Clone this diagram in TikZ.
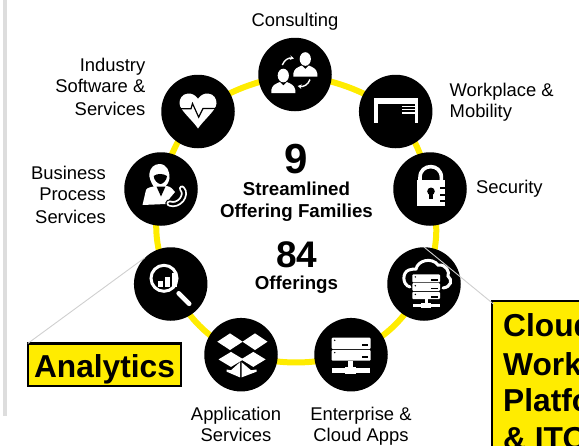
\documentclass[tikz,border=0pt]{standalone}
\usepackage{fontspec}
\setmainfont{Liberation Sans}
\usetikzlibrary{backgrounds,arrows.meta}
\definecolor{ringyellow}{HTML}{FFEC00}
\definecolor{leadergray}{HTML}{CFCFCF}
\definecolor{bargray}{HTML}{DDDDDD}
\newcommand{\srvunit}[4]{% x0,y0,x1,y1
  \fill[white,rounded corners=1pt] (#1,#2) rectangle (#3,#4);
  \fill[black] ({#1+3},{#2+2.6}) circle[radius=0.8];
  \fill[black] ({#3-9},{(#2+#4)/2+0.6}) rectangle ({#3-2.5},{(#2+#4)/2+2.4});
}
\newcommand{\bustshape}[3]{% cx, bottom y, half width
  \fill[white] ({#1-#3},#2) -- ({#1-#3},{#2-3}) .. controls ({#1-#3+1},{#2-8}) and ({#1-#3+4},{#2-9}) .. ({#1-3.5},{#2-11}) -- (#1,{#2-7.5}) -- ({#1+3.5},{#2-11}) .. controls ({#1+#3-4},{#2-9}) and ({#1+#3-1},{#2-8}) .. ({#1+#3},{#2-3}) -- ({#1+#3},#2) -- cycle;
  \fill[white] (#1,{#2-17.5}) ellipse[x radius=5.6,y radius=6.8];
}
\tikzset{
  x=1pt,y=-1pt,
  hub/.style={circle,fill=black,inner sep=0pt,minimum size=73.5pt},
  ringedge/.style={draw=ringyellow,line width=6pt},
  leader/.style={draw=leadergray,line width=0.9pt},
  lbl/.style={font=\fontsize{18.4}{21}\selectfont,inner sep=0pt,text=black},
  big/.style={font=\bfseries\fontsize{18.7}{21}\selectfont,inner sep=0pt,align=center},
  callout/.style={draw=black,fill=ringyellow,line width=2.2pt,text=black},
  calltext/.style={inner sep=0pt,font=\bfseries\fontsize{31.7}{37.5}\selectfont},
}
\begin{document}
\begin{tikzpicture}
\useasboundingbox (0,0) rectangle (579,445);
\clip (0,0) rectangle (579,445);
\fill[bargray] (3.3,0) rectangle (7,415.7);

\node[hub] (consult) at (295,74.5) {};
\node[hub] (industry) at (198,111.5) {};
\node[hub] (business) at (161,189) {};
\node[hub] (analytics) at (170.7,284) {};
\node[hub] (appsvc) at (241,354.7) {};
\node[hub] (enterprise) at (351,354.7) {};
\node[hub] (cloud) at (424,284) {};
\node[hub] (security) at (430,189) {};
\node[hub] (workplace) at (395.7,111.5) {};

\begin{scope}[on background layer]
  \draw[ringedge] (consult.center) to[bend left=12] (workplace.center);
  \draw[ringedge] (workplace.center) to[bend left=12] (security.center);
  \draw[ringedge] (security.center) to[bend left=19] (cloud.center);
  \draw[ringedge] (cloud.center) to[bend left=18] (enterprise.center);
  \draw[ringedge] (enterprise.center) to[bend left=14] (appsvc.center);
  \draw[ringedge] (appsvc.center) to[bend left=18] (analytics.center);
  \draw[ringedge] (analytics.center) to[bend left=19] (business.center);
  \draw[ringedge] (business.center) to[bend left=12] (industry.center);
  \draw[ringedge] (industry.center) to[bend left=12] (consult.center);
\end{scope}

% Consulting icon
\begin{scope}[shift={(consult.center)}]
  \bustshape{10.3}{2}{12}
  \bustshape{-11.7}{18.5}{12}
  \draw[white,line width=1.4pt,-{Stealth[length=4pt,width=4.5pt]}] (-12.7,-9.5) .. controls (-10.5,-15) and (-6,-17) .. (-1,-16);
  \draw[white,line width=1.4pt,-{Stealth[length=4pt,width=4.5pt]}] (15,5) .. controls (13,10.5) and (8.5,12.5) .. (2.7,11.5);
\end{scope}

% Heart icon
\begin{scope}[shift={(industry.center)}]
  \fill[white] (0,-12.7) .. controls (-3,-17) and (-7,-18.3) .. (-10,-18) .. controls (-16,-17.5) and (-18.7,-12.5) .. (-18.5,-8) .. controls (-18,-1) and (-6,8) .. (0,17) .. controls (6,8) and (18,-1) .. (18.5,-8) .. controls (18.7,-12.5) and (16,-17.5) .. (10,-18) .. controls (7,-18.3) and (3,-17) .. (0,-12.7) -- cycle;
  \draw[black,line width=1.2pt] (-18.7,-2.7) -- (-7,-2.7) -- (-5.5,-8) -- (0.7,5.7) -- (5,-3) -- (18.7,-3);
\end{scope}

% Person with phone icon
\begin{scope}[shift={(business.center)}]
  \fill[white] (-18.5,16) -- (-15,1) .. controls (-14,-1.5) and (-10,-2) .. (-5,-3) -- (6,-3) .. controls (10,-2) and (12,0) .. (14,3) -- (9,9) -- (5,15) -- cycle;
  \fill[white] (-1.5,-25) .. controls (6,-25) and (9,-17) .. (8.5,-11) .. controls (8,-7) and (6,-4) .. (4,-2) -- (-7,-2) .. controls (-10,-6) and (-12,-12) .. (-11.7,-15) .. controls (-11,-21) and (-7,-25) .. (-1.5,-25) -- cycle;
  \fill[black] (-7.3,-13) .. controls (-4,-15.7) and (2,-15.7) .. (6,-13) .. controls (6,-9) and (2,-5) .. (-0.5,-5) .. controls (-3,-5) and (-7.3,-9) .. (-7.3,-13) -- cycle;
  \fill[black] (-4.5,-2.5) -- (4.5,-2.5) -- (0,7.5) -- cycle;
  \draw[black,line width=8.5pt,line cap=round] (8.5,14.5) .. controls (18,18) and (27,6) .. (21,-0.5);
  \draw[white,line width=6pt,line cap=round] (8.5,14.5) .. controls (18,18) and (27,6) .. (21,-0.5);
  \draw[black,line width=2.4pt,line cap=round] (8.5,14.5) .. controls (18,18) and (27,6) .. (21,-0.5);
\end{scope}

% Magnifier icon
\begin{scope}[shift={(analytics.center)}]
  \draw[white,line width=3pt] (-6.7,-5.7) circle[radius=13];
  \draw[white,line width=4.6pt,line cap=round] (8,9.3) -- (18.5,19.8);
  \fill[white] (-12.7,-3) rectangle (-7.6,3);
  \fill[white] (-5.7,-7.3) rectangle (-0.9,3);
  \fill[white] (1,-11.3) rectangle (6.7,3);
\end{scope}

% Open box icon
\begin{scope}[shift={(appsvc.center)}]
  \fill[white] (-23.7,-13) -- (-11,-21.3) -- (1.7,-13) -- (-11,-4.7) -- cycle;
  \fill[white] (1.5,-13) -- (14,-21.3) -- (26.5,-13) -- (14,-4.7) -- cycle;
  \fill[white] (-22.5,4.7) -- (-10,-2.8) -- (2.5,4.7) -- (-10,12.2) -- cycle;
  \fill[white] (0,4.7) -- (12.3,-2.8) -- (24.6,4.7) -- (12.3,12.2) -- cycle;
  \fill[white] (-14.3,14.8) -- (-10,15.5) -- (-1,7.5) -- (-1,22.7) -- (-14.3,17) -- cycle;
  \fill[white] (0.5,7.5) -- (10,15.5) -- (15.5,14.8) -- (15.5,17) -- (0.5,22.7) -- cycle;
\end{scope}

% Server icon
\begin{scope}[shift={(enterprise.center)}]
  \srvunit{-19.3}{-17}{19.7}{-5.7}
  \srvunit{-19.3}{-4.7}{19.7}{6}
  \fill[white] (-2.7,6) rectangle (2.3,14);
  \fill[white] (-18.7,13.7) rectangle (19,18);
  \fill[white] (-6,12) rectangle (5,19);
\end{scope}

% Cloud server icon
\begin{scope}[shift={(cloud.center)}]
  \draw[white,line width=3pt,line cap=round] (-14,3) .. controls (-22,1) and (-22,-12) .. (-15,-14) .. controls (-12,-15) and (-10,-15) .. (-8,-15) .. controls (-6,-24) and (8,-27) .. (14,-19) .. controls (22,-20) and (26,-12) .. (24,-8) .. controls (29,-4) and (27,3) .. (19,4);
  \srvunit{-11.7}{-9.7}{16}{-1.7}
  \srvunit{-11.7}{-0.9}{16}{6.9}
  \srvunit{-11.7}{7.8}{16}{15.2}
  \fill[white] (0.7,15) rectangle (3.6,20);
  \fill[white] (-11,20) rectangle (16,23.3);
  \fill[white] (-3,18.5) rectangle (7,24);
\end{scope}

% Security icon
\begin{scope}[shift={(security.center)}]
  \draw[white,line width=3.6pt] (-10,-9) -- (-10,-11.5) .. controls (-10,-26) and (11.4,-26) .. (11.4,-11.5) -- (11.4,-9);
  \fill[white] (-12.7,-9.3) rectangle (15,16.7);
  \fill[black] (1,2.3) circle[radius=3.8];
  \fill[black] (-0.8,3) rectangle (2.8,10);
  \fill[black] (10,-1.8) rectangle (15.2,-0.2);
  \fill[black] (10,4.9) rectangle (15.2,6.5);
  \fill[black] (10,10.9) rectangle (15.2,12.5);
\end{scope}

% Desk icon
\begin{scope}[shift={(workplace.center)}]
  \fill[white] (-21.3,-13.3) rectangle (22.7,-7.3);
  \fill[white] (-21.3,-13.3) rectangle (-18,11.7);
  \fill[white] (19.4,-13.3) rectangle (22.7,11.7);
  \fill[white] (6,-5.6) rectangle (19,-4.3);
  \fill[white] (6,-2.4) rectangle (19,-1.1);
  \fill[white] (6,0.9) rectangle (19,2.2);
\end{scope}

% Labels
\node[lbl,anchor=base] (lconsult) at (295,26.5) {Consulting};
\node[lbl,anchor=base east] (lind1) at (145.5,71) {Industry};
\node[lbl,anchor=base east] (lind2) at (145.5,92) {Software \&};
\node[lbl,anchor=base east] (lind3) at (145.5,115) {Services};
\node[lbl,anchor=base east] (lbus1) at (106,179) {Business};
\node[lbl,anchor=base east] (lbus2) at (106,200) {Process};
\node[lbl,anchor=base east] (lbus3) at (106,223) {Services};
\node[lbl,anchor=base west] (lwork1) at (449.5,96.7) {Workplace \&};
\node[lbl,anchor=base west] (lwork2) at (449.5,117.7) {Mobility};
\node[lbl,anchor=base west] (lsec) at (476,193) {Security};
\node[lbl,anchor=base] (lapp1) at (236,420) {Application};
\node[lbl,anchor=base] (lapp2) at (236,441.7) {Services};
\node[lbl,anchor=base] (lent1) at (361,420) {Enterprise \&};
\node[lbl,anchor=base] (lent2) at (361,441.7) {Cloud Apps};

% Centre text
\node[anchor=base,inner sep=0pt,font=\bfseries\fontsize{42}{42}\selectfont] (nine) at (296,173) {9};
\node[big,anchor=base] (stream) at (296.5,195.7) {Streamlined};
\node[big,anchor=base] (fam) at (296.5,217) {Offering Families};
\node[anchor=base,inner sep=0pt,font=\bfseries\fontsize{37}{37}\selectfont] (eighty) at (297,267.5) {84};
\node[big,anchor=base] (off) at (296.5,289) {Offerings};

% Callouts
\node[callout,anchor=north west,minimum width=153.4pt,minimum height=42.2pt,inner sep=0pt,outer sep=0pt] (abox) at (27.8,343.4) {};
\node[calltext,anchor=base] (atext) at (104.5,377.5) {Analytics};
\node[callout,anchor=north west,minimum width=130pt,minimum height=190pt,inner sep=0pt,outer sep=0pt] (cbox) at (492,301) {};
\node[calltext,anchor=base west] (c1) at (503,336.7) {Cloud};
\node[calltext,anchor=base west] (c2) at (503,375) {Work};
\node[calltext,anchor=base west] (c3) at (503,411.7) {Platfo};
\node[calltext,anchor=base west] (c4) at (503,449) {\& ITO};

% Leaders
\draw[leader] (abox.north west) -- (analytics.135);
\draw[leader] (cloud.north) -- ([xshift=1.5pt,yshift=-3pt]cbox.north west);
\end{tikzpicture}
\end{document}
